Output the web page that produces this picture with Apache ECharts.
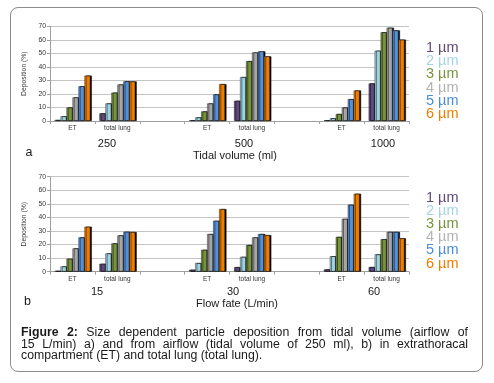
<!DOCTYPE html>
<html>
<head>
<meta charset="utf-8">
<script src="https://cdn.jsdelivr.net/npm/echarts@6/dist/echarts.min.js"></script>
<style>
  html, body { margin: 0; padding: 0; background: #fff; }
  #wrap { position: relative; width: 494px; height: 383px; overflow: hidden; }
  #box {
    position: absolute; left: 10px; top: 7px; width: 471px; height: 363px;
    border: 1px solid #8c8c8c; border-radius: 8px;
  }
  #chart { position: absolute; left: 0; top: 0; width: 494px; height: 383px; }
  #caption {
    position: absolute; left: 21px; top: 327px; width: 447px;
    font-family: 'Liberation Sans', Arial, sans-serif; font-size: 12.3px;
    line-height: 11.5px; color: #1a1a1a;
  }
  #caption div { white-space: nowrap; }
  #caption .j { text-align: justify; text-align-last: justify; }
</style>
</head>
<body>
<div id="wrap">
  <div id="box"></div>
  <div id="chart"></div>
  <div id="caption">
    <div class="j"><b>Figure 2:</b> Size dependent particle deposition from tidal volume (airflow of</div>
    <div class="j">15 L/min) a) and from airflow (tidal volume of 250 ml), b) in extrathoracal</div>
    <div>compartment (ET) and total lung (total lung).</div>
  </div>
</div>
<script>
// categories: ET / total lung per setting, blank slot between groups
const categories = ['ET', 'total lung', '', 'ET', 'total lung', '', 'ET', 'total lung']
const sizes = ['1 µm', '2 µm', '3 µm', '4 µm', '5 µm', '6 µm']
const yTicks = [0, 70, 10] // min, max, interval

// a) tidal volume 250 / 500 / 1000 ml
const tidalLabels = ['250', '500', '1000']
const tidal1 = [0.8, 5.7, null, 0.6, 15.0, null, 0.6, 27.8]
const tidal2 = [3.5, 13.0, null, 2.7, 32.5, null, 2.0, 52.0]
const tidal3 = [10.0, 21.0, null, 7.1, 44.3, null, 5.2, 65.6]
const tidal4 = [17.5, 27.0, null, 13.0, 50.7, null, 10.0, 69.0]
const tidal5 = [25.7, 29.4, null, 19.7, 51.5, null, 16.2, 67.0]
const tidal6 = [33.6, 29.3, null, 27.3, 47.8, null, 22.6, 60.2]

// b) flow rate 15 / 30 / 60 L/min
const flowLabels = ['15', '30', '60']
const flow1 = [0.7, 5.9, null, 1.5, 3.4, null, 1.7, 3.5]
const flow2 = [3.9, 13.5, null, 6.4, 11.0, null, 11.4, 12.8]
const flow3 = [9.6, 20.9, null, 16.2, 19.7, null, 25.7, 24.0]
const flow4 = [17.2, 26.8, null, 27.8, 25.3, null, 39.0, 29.4]
const flow5 = [25.3, 29.5, null, 37.6, 27.8, null, 49.4, 29.4]
const flow6 = [33.2, 29.3, null, 46.2, 27.0, null, 57.5, 24.7]

const barColors = ['#604a7b', '#9fd2e2', '#77933c', '#a6a6a6', '#5591d8', '#ef7d00']
const textColors = ['#5f497a', '#a3d4e4', '#77933c', '#b3b3b3', '#4a8ed8', '#f07d00']

const font = "'Liberation Sans', Arial, sans-serif"

const chart = echarts.init(document.getElementById('chart'))

const tidal = [tidal1, tidal2, tidal3, tidal4, tidal5, tidal6]
const flow = [flow1, flow2, flow3, flow4, flow5, flow6]

function makeX (idx) {
  return {
    type: 'category',
    gridIndex: idx,
    data: categories,
    axisLine: { lineStyle: { color: '#a0a0a0', width: 1 } },
    axisTick: { show: true, length: 3, lineStyle: { color: '#a0a0a0' } },
    axisLabel: { interval: 0, fontSize: 6.5, color: '#333', margin: 4, fontFamily: font }
  }
}

function makeY (idx) {
  return {
    type: 'value',
    gridIndex: idx,
    min: yTicks[0],
    max: yTicks[1],
    interval: yTicks[2],
    name: 'Deposition (%)',
    nameLocation: 'middle',
    nameGap: 15,
    nameTextStyle: { fontSize: 6.8, color: '#333', fontFamily: font },
    axisLine: { show: true, lineStyle: { color: '#a0a0a0' } },
    axisTick: { show: true, length: 3, lineStyle: { color: '#a0a0a0' } },
    axisLabel: { fontSize: 6.8, color: '#333', margin: 4, fontFamily: font },
    splitLine: { lineStyle: { color: '#c4c4c4', width: 1 } }
  }
}

function makeSeries (sets, idx) {
  return sets.map(function (vals, i) {
    return {
      name: sizes[i],
      type: 'bar',
      xAxisIndex: idx,
      yAxisIndex: idx,
      barGap: '0%',
      barCategoryGap: '20%',
      data: vals,
      itemStyle: {
        color: barColors[i],
        borderColor: 'rgba(30,30,30,0.75)',
        borderWidth: 0.6,
        shadowColor: '#000',
        shadowOffsetX: 1.5,
        shadowOffsetY: 0,
        shadowBlur: 0
      },
      emphasis: { disabled: true }
    }
  })
}

function makeLegend (top) {
  return {
    orient: 'vertical',
    left: 416,
    top: top,
    icon: 'none',
    itemWidth: 0,
    itemHeight: 13,
    itemGap: -1.8,
    selectedMode: false,
    data: sizes.map(function (s, i) {
      return { name: s, textStyle: { color: textColors[i] } }
    }),
    textStyle: { fontSize: 14.5, lineHeight: 13, fontFamily: font, padding: 0 }
  }
}

function txt (x, y, s, size, align) {
  return {
    type: 'text',
    x: x,
    y: y,
    style: {
      text: s,
      fontSize: size,
      fontFamily: font,
      fill: '#1a1a1a',
      align: align || 'center',
      verticalAlign: 'middle'
    }
  }
}

let option = {
  animation: false,
  grid: [
    { left: 50, right: 85, top: 26.3, height: 94.7 },
    { left: 50, right: 85, top: 176.7, height: 95 }
  ],
  legend: [makeLegend(35.5), makeLegend(185)],
  xAxis: [makeX(0), makeX(1)],
  yAxis: [makeY(0), makeY(1)],
  series: makeSeries(tidal, 0).concat(makeSeries(flow, 1)),
  graphic: [
    txt(107, 143.5, tidalLabels[0], 11),
    txt(244, 143.5, tidalLabels[1], 11),
    txt(383, 143.5, tidalLabels[2], 11),
    txt(235, 156, 'Tidal volume (ml)', 11),
    txt(29, 153, 'a', 12.5),
    txt(97, 291.5, flowLabels[0], 11),
    txt(233, 291.5, flowLabels[1], 11),
    txt(374, 291.5, flowLabels[2], 11),
    txt(237, 303.5, 'Flow fate (L/min)', 11),
    txt(27.5, 302, 'b', 12.5)
  ]
}

chart.setOption(option)
</script>
</body>
</html>
